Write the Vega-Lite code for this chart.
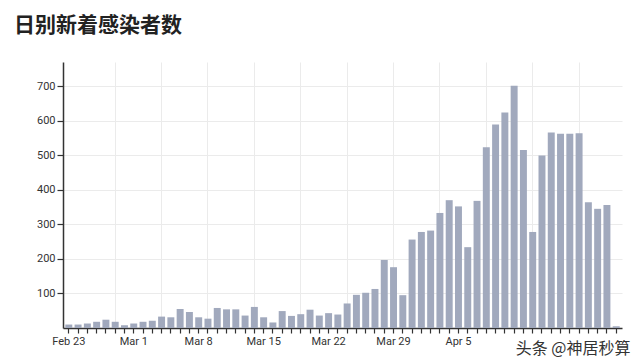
{
  "$schema": "https://vega.github.io/schema/vega-lite/v6.json",
  "width": 559,
  "height": 266,
  "autosize": "none",
  "padding": {"left": 63, "top": 62, "right": 18, "bottom": 36},
  "background": "white",
  "title": {
    "text": "日别新着感染者数",
    "anchor": "start",
    "frame": "group",
    "font": "Noto Sans CJK SC",
    "fontSize": 21,
    "fontWeight": "bold",
    "color": "#222222",
    "dx": -49,
    "offset": 26
  },
  "data": {
    "values": [
      {"date": "Feb 23", "cases": 10}, {"date": "Feb 24", "cases": 10}, {"date": "Feb 25", "cases": 13},
      {"date": "Feb 26", "cases": 18}, {"date": "Feb 27", "cases": 24}, {"date": "Feb 28", "cases": 18},
      {"date": "Feb 29", "cases": 8}, {"date": "Mar 1", "cases": 13}, {"date": "Mar 2", "cases": 18},
      {"date": "Mar 3", "cases": 21}, {"date": "Mar 4", "cases": 33}, {"date": "Mar 5", "cases": 31},
      {"date": "Mar 6", "cases": 55}, {"date": "Mar 7", "cases": 46}, {"date": "Mar 8", "cases": 31},
      {"date": "Mar 9", "cases": 27}, {"date": "Mar 10", "cases": 58}, {"date": "Mar 11", "cases": 54},
      {"date": "Mar 12", "cases": 54}, {"date": "Mar 13", "cases": 36}, {"date": "Mar 14", "cases": 61},
      {"date": "Mar 15", "cases": 31}, {"date": "Mar 16", "cases": 16}, {"date": "Mar 17", "cases": 49},
      {"date": "Mar 18", "cases": 35}, {"date": "Mar 19", "cases": 40}, {"date": "Mar 20", "cases": 53},
      {"date": "Mar 21", "cases": 36}, {"date": "Mar 22", "cases": 43}, {"date": "Mar 23", "cases": 39},
      {"date": "Mar 24", "cases": 71}, {"date": "Mar 25", "cases": 96}, {"date": "Mar 26", "cases": 102},
      {"date": "Mar 27", "cases": 113}, {"date": "Mar 28", "cases": 197}, {"date": "Mar 29", "cases": 176},
      {"date": "Mar 30", "cases": 95}, {"date": "Mar 31", "cases": 256}, {"date": "Apr 1", "cases": 278},
      {"date": "Apr 2", "cases": 282}, {"date": "Apr 3", "cases": 333}, {"date": "Apr 4", "cases": 370},
      {"date": "Apr 5", "cases": 352}, {"date": "Apr 6", "cases": 234}, {"date": "Apr 7", "cases": 368},
      {"date": "Apr 8", "cases": 523}, {"date": "Apr 9", "cases": 589}, {"date": "Apr 10", "cases": 624},
      {"date": "Apr 11", "cases": 701}, {"date": "Apr 12", "cases": 515}, {"date": "Apr 13", "cases": 278},
      {"date": "Apr 14", "cases": 499}, {"date": "Apr 15", "cases": 566}, {"date": "Apr 16", "cases": 562},
      {"date": "Apr 17", "cases": 562}, {"date": "Apr 18", "cases": 564}, {"date": "Apr 19", "cases": 364},
      {"date": "Apr 20", "cases": 345}, {"date": "Apr 21", "cases": 356}, {"date": "Apr 22", "cases": 5}
    ]
  },
  "mark": {"type": "bar", "color": "#a1a9bd"},
  "encoding": {
    "x": {
      "field": "date",
      "type": "ordinal",
      "sort": null,
      "scale": {"paddingInner": 0.25, "paddingOuter": 0.25},
      "axis": {
        "title": "头条 @神居秒算",
        "titleAnchor": "end",
        "titleAlign": "right",
        "titleX": 567,
        "titleY": 20,
        "titleBaseline": "middle",
        "titleFont": "Noto Sans CJK SC",
        "titleFontSize": 16,
        "titleFontWeight": "normal",
        "titleColor": "#333333",
        "labelAngle": 0,
        "labelOverlap": false,
        "labelFlush": false,
        "labelExpr": "indexof(['Feb 23','Mar 1','Mar 8','Mar 15','Mar 22','Mar 29','Apr 5'], datum.value) >= 0 ? datum.value : ''",
        "labelFont": "Roboto",
        "labelFontSize": 11,
        "labelColor": "#333333",
        "labelPadding": 2,
        "bandPosition": 0.5,
        "tickSize": 5,
        "tickColor": "#333333",
        "tickWidth": 1.2,
        "domainColor": "#333333",
        "domainWidth": 1.5,
        "grid": true,
        "gridColor": "#ebebeb",
        "gridOpacity": {
          "condition": {
            "test": "indexof(['Feb 28','Mar 4','Mar 9','Mar 14','Mar 19','Mar 24','Mar 29','Apr 3','Apr 8','Apr 13','Apr 18'], datum.value) >= 0",
            "value": 1
          },
          "value": 0
        }
      }
    },
    "y": {
      "field": "cases",
      "type": "quantitative",
      "scale": {"domain": [0, 770], "nice": false},
      "axis": {
        "title": null,
        "values": [100, 200, 300, 400, 500, 600, 700],
        "labelFont": "Roboto",
        "labelFontSize": 11,
        "labelColor": "#333333",
        "labelPadding": 2,
        "tickSize": 6,
        "tickColor": "#333333",
        "tickWidth": 1.2,
        "domainColor": "#333333",
        "domainWidth": 1.5,
        "grid": true,
        "gridColor": "#ebebeb"
      }
    }
  },
  "config": {"view": {"stroke": null}}
}
